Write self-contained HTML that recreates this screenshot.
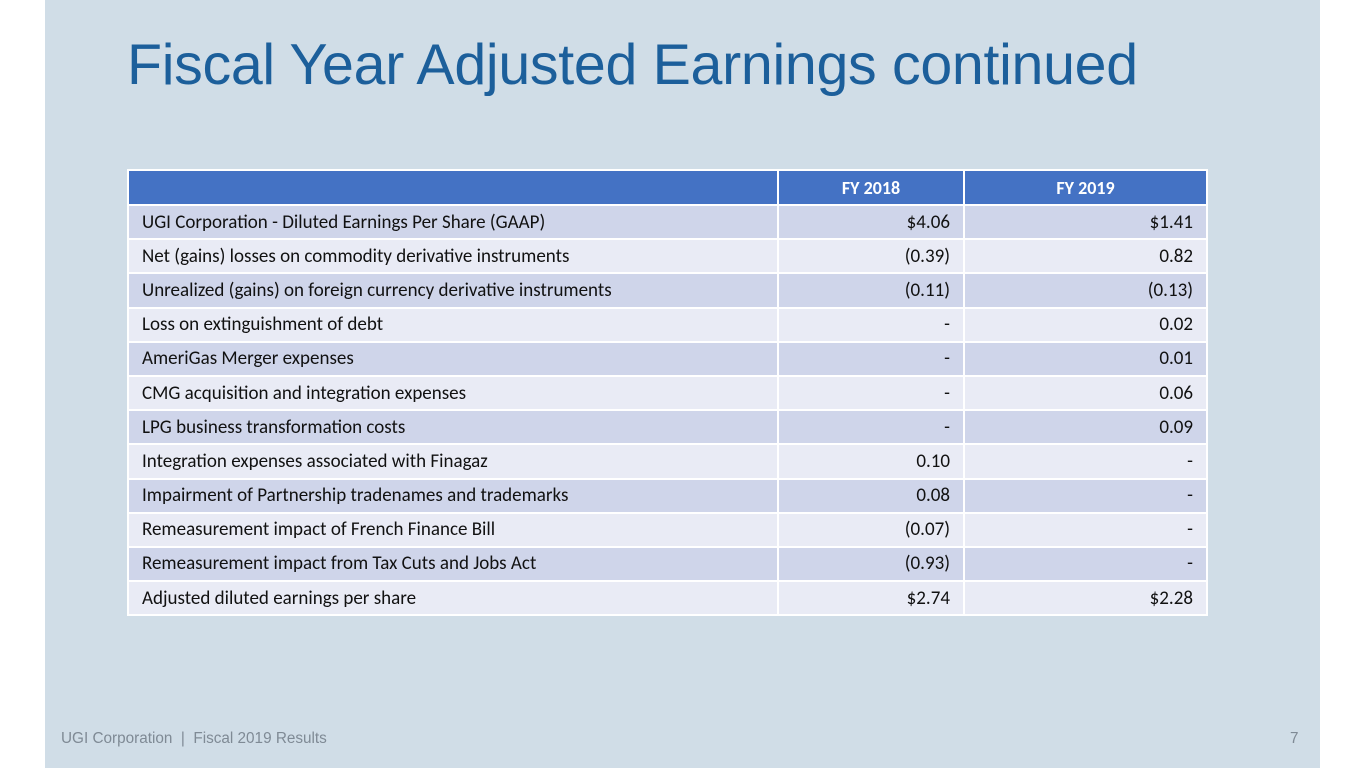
<!DOCTYPE html>
<html><head><style>
body{margin:0;width:1365px;height:768px;background:#fff;position:relative;overflow:hidden;font-family:"Liberation Sans",sans-serif}
.slide{position:absolute;left:45px;top:0;width:1275px;height:768px;background:#d0dde7}
h1{position:absolute;left:127px;top:32px;margin:0;font-weight:normal;font-size:57.3px;color:#1c5f9b;white-space:nowrap;letter-spacing:-0.3px}
table{position:absolute;left:127px;top:169px;border-collapse:collapse;table-layout:fixed;width:1079px;font-family:"Carlito","Liberation Sans",sans-serif;font-size:19px;color:#111}
td{border:2px solid #fff;height:32.2px;padding:0 13px;white-space:nowrap;box-sizing:border-box}
tr{height:34.2px}
col.c1{width:650px}
col.c2{width:186px}
col.c3{width:243px}
td.c2,td.c3{text-align:right}
tr.h td{background:#4472c4;color:#fff;font-weight:bold;text-align:center;font-size:18px}
tr.h{height:35px}
tr.o td{background:#cfd5ea}
tr.e td{background:#e9ebf5}
.foot{position:absolute;top:730px;font-size:15.3px;color:#7f8a95}
</style></head><body>
<div class="slide"></div>
<h1>Fiscal Year Adjusted Earnings continued</h1>
<table>
<colgroup><col class="c1"><col class="c2"><col class="c3"></colgroup>
<tr class="h"><td></td><td>FY 2018</td><td>FY 2019</td></tr>
<tr class="o"><td>UGI Corporation - Diluted Earnings Per Share (GAAP)</td><td class="c2">$4.06</td><td class="c3">$1.41</td></tr>
<tr class="e"><td>Net (gains) losses on commodity derivative instruments</td><td class="c2">(0.39)</td><td class="c3">0.82</td></tr>
<tr class="o"><td>Unrealized (gains) on foreign currency derivative instruments</td><td class="c2">(0.11)</td><td class="c3">(0.13)</td></tr>
<tr class="e"><td>Loss on extinguishment of debt</td><td class="c2">-</td><td class="c3">0.02</td></tr>
<tr class="o"><td>AmeriGas Merger expenses</td><td class="c2">-</td><td class="c3">0.01</td></tr>
<tr class="e"><td>CMG acquisition and integration expenses</td><td class="c2">-</td><td class="c3">0.06</td></tr>
<tr class="o"><td>LPG business transformation costs</td><td class="c2">-</td><td class="c3">0.09</td></tr>
<tr class="e"><td>Integration expenses associated with Finagaz</td><td class="c2">0.10</td><td class="c3">-</td></tr>
<tr class="o"><td>Impairment of Partnership tradenames and trademarks</td><td class="c2">0.08</td><td class="c3">-</td></tr>
<tr class="e"><td>Remeasurement impact of French Finance Bill</td><td class="c2">(0.07)</td><td class="c3">-</td></tr>
<tr class="o"><td>Remeasurement impact from Tax Cuts and Jobs Act</td><td class="c2">(0.93)</td><td class="c3">-</td></tr>
<tr class="e"><td>Adjusted diluted earnings per share</td><td class="c2">$2.74</td><td class="c3">$2.28</td></tr>
</table>
<div class="foot" style="left:61px">UGI Corporation&nbsp; | &nbsp;Fiscal 2019 Results</div>
<div class="foot" style="left:1290px">7</div>
</body></html>
